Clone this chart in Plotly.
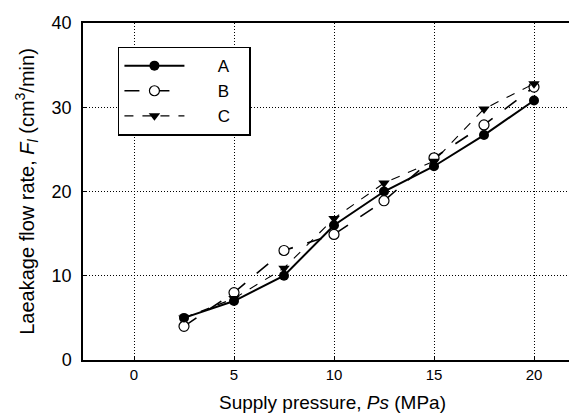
import plotly.graph_objects as go

pressure = [2.5, 5, 7.5, 10, 12.5, 15, 17.5, 20]
series_a = [5.0, 7.0, 10.0, 16.0, 20.0, 23.0, 26.7, 30.8]
series_b = [4.0, 8.0, 13.0, 14.9, 18.9, 24.0, 27.9, 32.4]
series_c = [5.0, 7.3, 10.9, 16.8, 21.0, 23.6, 29.8, 32.8]
names = ["A", "B", "C"]
x_ticks = [0, 5, 10, 15, 20]
y_ticks = [0, 10, 20, 30, 40]

FONT = "Liberation Sans, Arial, sans-serif"
PAD_L = "&nbsp;" * 6
PAD_R = "&nbsp;" * 3

fig = go.Figure()
fig.add_trace(go.Scatter(
    x=pressure, y=series_a, name=PAD_L + names[0] + PAD_R, mode="lines+markers",
    line=dict(color="black", width=2, dash="solid"),
    marker=dict(symbol="circle", size=10, color="black")))
fig.add_trace(go.Scatter(
    x=pressure, y=series_b, name=PAD_L + names[1] + PAD_R, mode="lines+markers",
    line=dict(color="black", width=1.6, dash="longdash"),
    marker=dict(symbol="circle", size=10, color="white",
                line=dict(color="black", width=1.2))))
fig.add_trace(go.Scatter(
    x=pressure, y=series_c, name=PAD_L + names[2] + PAD_R, mode="lines+markers",
    line=dict(color="black", width=1.1, dash="dash"),
    marker=dict(symbol="triangle-down", size=10, color="black")))

axis_common = dict(
    showline=True, linecolor="black", linewidth=1.5, mirror=True,
    showgrid=True, gridcolor="black", gridwidth=1, griddash="1px,2px",
    zeroline=False, ticks="inside", ticklen=4, tickcolor="black",
)

fig.update_xaxes(range=[-2.55, 22.4], tickvals=x_ticks, **axis_common,
                 tickfont=dict(family=FONT, size=15, color="black"),
                 title=dict(text="Supply pressure, <i>Ps</i> (MPa)",
                            font=dict(family=FONT, size=19, color="black"),
                            standoff=14))
fig.update_yaxes(range=[0, 40], tickvals=y_ticks, **axis_common,
                 tickfont=dict(family=FONT, size=18, color="black"),
                 ticklabelstandoff=6,
                 title=dict(text="Laeakage flow rate, <i>F<sub>l</sub></i> (cm<sup>3</sup>/min)",
                            font=dict(family=FONT, size=20, color="black"),
                            standoff=12))

fig.update_layout(
    width=577, height=419,
    margin=dict(l=75, r=1, t=15, b=67),
    plot_bgcolor="white", paper_bgcolor="white",
    font=dict(family=FONT, color="black"),
    legend=dict(x=0.07, y=0.93, xanchor="left", yanchor="top",
                bgcolor="white", bordercolor="black", borderwidth=1.5,
                font=dict(family=FONT, size=17, color="black"),
                tracegroupgap=0, itemwidth=60),
)

fig.write_html("out.html")
